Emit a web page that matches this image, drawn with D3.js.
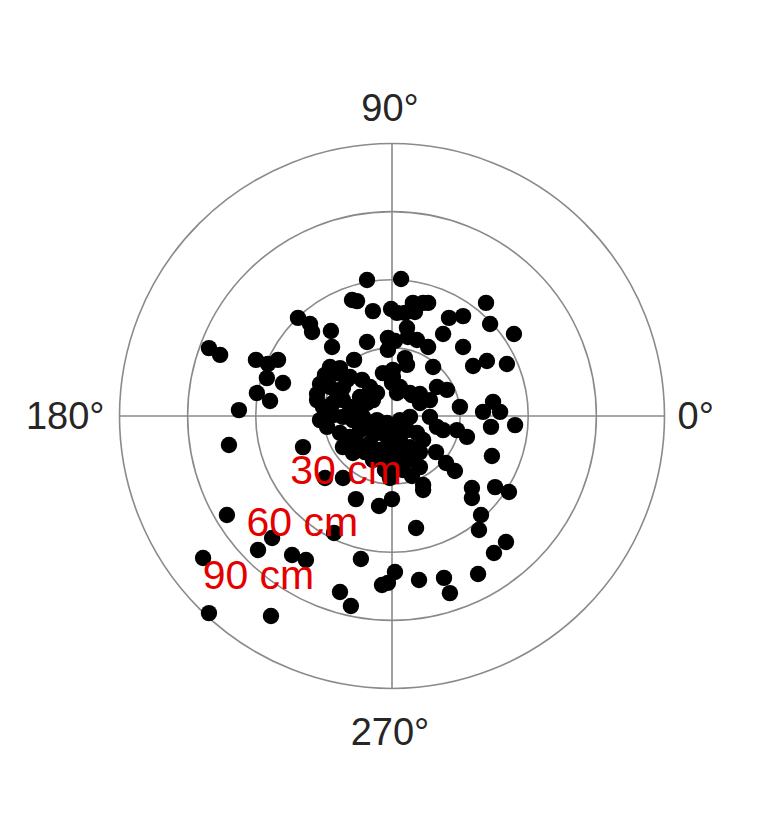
<!DOCTYPE html>
<html>
<head>
<meta charset="utf-8">
<script src="https://cdn.jsdelivr.net/npm/d3@7"></script>
<style>
  body { margin: 0; background: #fff; }
  text { font-family: "Liberation Sans", Arial, sans-serif; }
</style>
</head>
<body>
<svg id="chart" width="757" height="824"></svg>
<script>
// rings of the polar grid, in cm
const rings = [30, 60, 90, 120];
const ringLabels = [30, 60, 90];
const angleTicks = [0, 90, 180, 270];

// landing points, offset from the centre in cm
// east = toward 0°, north = toward 90°
const east = [
  -11.0, 4.0, -17.6, -15.4, -8.4, -0.4, 2.2, 5.7, 9.2, 13.7,
  15.9, 10.1, -41.4, -36.1, -35.2, -26.9, -26.4, -11.0, -1.8, -1.8,
  6.6, 7.0, 11.0, 1.3, 15.9, 25.1, 31.3, 22.5, 31.3, 41.4,
  43.2, 53.7, 35.7, 41.8, 50.6, 5.7, 6.6, 18.1, -16.7,
  -80.6, -75.7, -59.9, -54.6, -50.2, -55.1, -48.0, -59.5, -53.7, -67.4,
  -27.3, -22.9, -4.0, 0.4, -18.5, -13.2, -31.7, -33.0, -27.3, -24.2,
  -9.7, -6.6, 0.0, 3.5, 7.9, 12.3, 19.8, 24.2, -33.0, -30.4,
  -26.0, -21.6, -18.5, -14.1, -11.0, -8.4, 12.3, 16.7, 29.9, -28.6,
  -21.6, -17.2, -12.8, -6.6, -2.2, 3.5, 7.9, 16.7, 19.8, 22.5,
  28.6, 33.0, -22.9, -18.5, -14.1, -6.6, -2.2, 2.2, 6.6, 11.0,
  13.7, -21.6, -15.4, -9.7, -5.3, -0.9, 3.5, 7.9, -17.2, -8.4,
  -4.0, 0.4, 6.6, 9.2, 12.3, 23.8, 27.7, 2.2, 4.8, -29.5,
  -21.6, -0.9, 13.7, -29.5, -24.2, -19.8, -21.6, 0.4, 2.2, 8.8,
  -26.0, -31.7, -14.1, -10.6, -11.9, 3.5, 12.3, -3.1, 8.8, 19.4,
  40.1, 44.5, 47.6, 43.6, 54.2, 44.0,
  13.7, 35.2, 35.2, 45.4, 51.5, 0.0, 39.2, 10.6, 38.3, 50.2,
  44.9, 1.3, -1.8, -4.4, 11.9, 22.9, 25.5, 37.9,
  -71.8, -39.2, -15.9, -5.7, -72.7, -52.8, -59.0, -25.5, -44.0, -37.9,
  -13.7, -83.2, -22.9, -18.1, -80.6, -53.3
];
const north = [
  59.9, 60.3, 51.1, 50.6, 46.2, 47.1, 45.4, 45.4, 49.8, 49.8,
  49.8, 45.8, 43.2, 40.5, 37.0, 37.4, 30.4, 32.6, 34.4, 29.1,
  38.8, 34.8, 33.5, 33.0, 30.4, 43.2, 44.0, 36.1, 30.4, 49.8,
  40.5, 36.1, 22.0, 24.2, 22.9, 25.5, 22.5, 21.6, 24.7,
  29.9, 26.9, 24.7, 22.9, 24.7, 16.7, 14.5, 10.1, 6.6, 2.6,
  21.6, 21.1, 18.9, 20.3, 17.2, 15.9, 14.1, 9.7, 12.8, 10.1,
  12.8, 10.1, 14.5, 12.8, 10.1, 9.7, 12.8, 11.5, 7.0, 4.0,
  5.7, 7.0, 4.0, 8.4, 5.7, 7.0, 5.7, 7.0, 4.0, -4.8,
  -0.4, -1.8, -0.4, -1.8, -3.1, -1.8, -0.4, -0.4, -4.8, -6.2,
  -6.2, -9.2, -7.5, -9.2, -6.2, -7.5, -9.2, -7.5, -6.2, -7.5,
  -10.6, -13.7, -11.9, -11.9, -15.0, -13.7, -15.0, -13.7, -16.3, -19.4,
  -18.1, -19.4, -18.1, -19.4, -22.5, -20.7, -24.2, -22.5, -23.8, -27.3,
  -27.3, -27.3, -30.4, 18.1, 18.9, 15.9, 12.3, 17.2, 10.1, 9.2,
  0.4, -1.8, 2.6, -5.3, -15.9, -10.6, -15.9, -23.8, -26.4, -15.9,
  1.8, 6.2, 1.8, -4.8, -4.0, -17.6,
  -32.6, -31.7, -36.1, -31.3, -33.5, -36.6, -43.6, -49.3, -50.2, -55.5,
  -60.3, -68.7, -73.5, -74.4, -72.2, -71.3, -78.0, -69.6,
  -12.8, -13.7, -36.6, -39.6, -43.6, -53.7, -59.0, -51.5, -61.2, -63.4,
  -63.0, -62.5, -77.5, -83.7, -86.8, -88.1
];

const width = 757, height = 824;
const cx = 392, cy = 416, R = 272.5;
const maxR = d3.max(rings);

const svg = d3.select("#chart");

const r = d3.scaleLinear().domain([0, maxR]).range([0, R]);
const x = d3.scaleLinear().domain([-maxR, maxR]).range([cx - R, cx + R]);
const y = d3.scaleLinear().domain([-maxR, maxR]).range([cy + R, cy - R]);

const grid = svg.append("g")
    .attr("fill", "none")
    .attr("stroke", "#8a8a8a")
    .attr("stroke-width", 1.6);

grid.selectAll("circle")
    .data(rings)
    .join("circle")
    .attr("cx", cx)
    .attr("cy", cy)
    .attr("r", d => r(d));

grid.selectAll("line")
    .data(angleTicks)
    .join("line")
    .attr("x1", cx)
    .attr("y1", cy)
    .attr("x2", d => cx + R * Math.cos(d * Math.PI / 180))
    .attr("y2", d => cy - R * Math.sin(d * Math.PI / 180));

// points
const pts = east.map((e, i) => ({ e: e, n: north[i] }));
svg.append("g")
    .selectAll("circle")
    .data(pts)
    .join("circle")
    .attr("cx", d => x(d.e))
    .attr("cy", d => y(d.n))
    .attr("r", 8.2)
    .attr("fill", "#000");

// angle labels
const tickPos = {
    0:   { dx: R + 13, dy: 13, anchor: "start" },
    90:  { dx: -2, dy: -R - 22.5, anchor: "middle" },
    180: { dx: -R - 15, dy: 13, anchor: "end" },
    270: { dx: -2, dy: R + 56.5, anchor: "middle" }
};
svg.append("g")
    .selectAll("text")
    .data(angleTicks)
    .join("text")
    .attr("x", d => cx + tickPos[d].dx)
    .attr("y", d => cy + tickPos[d].dy)
    .attr("text-anchor", d => tickPos[d].anchor)
    .attr("font-size", 38)
    .attr("fill", "#262626")
    .text(d => d + "°");

// ring labels, placed along the 230° direction
const labAng = 230 * Math.PI / 180;
svg.append("g")
    .selectAll("text")
    .data(ringLabels)
    .join("text")
    .attr("x", d => cx + r(d) * Math.cos(labAng) - 58)
    .attr("y", d => cy - r(d) * Math.sin(labAng) + 16)
    .attr("font-size", 41)
    .attr("fill", "#e50000")
    .text(d => d + " cm");
</script>
</body>
</html>
